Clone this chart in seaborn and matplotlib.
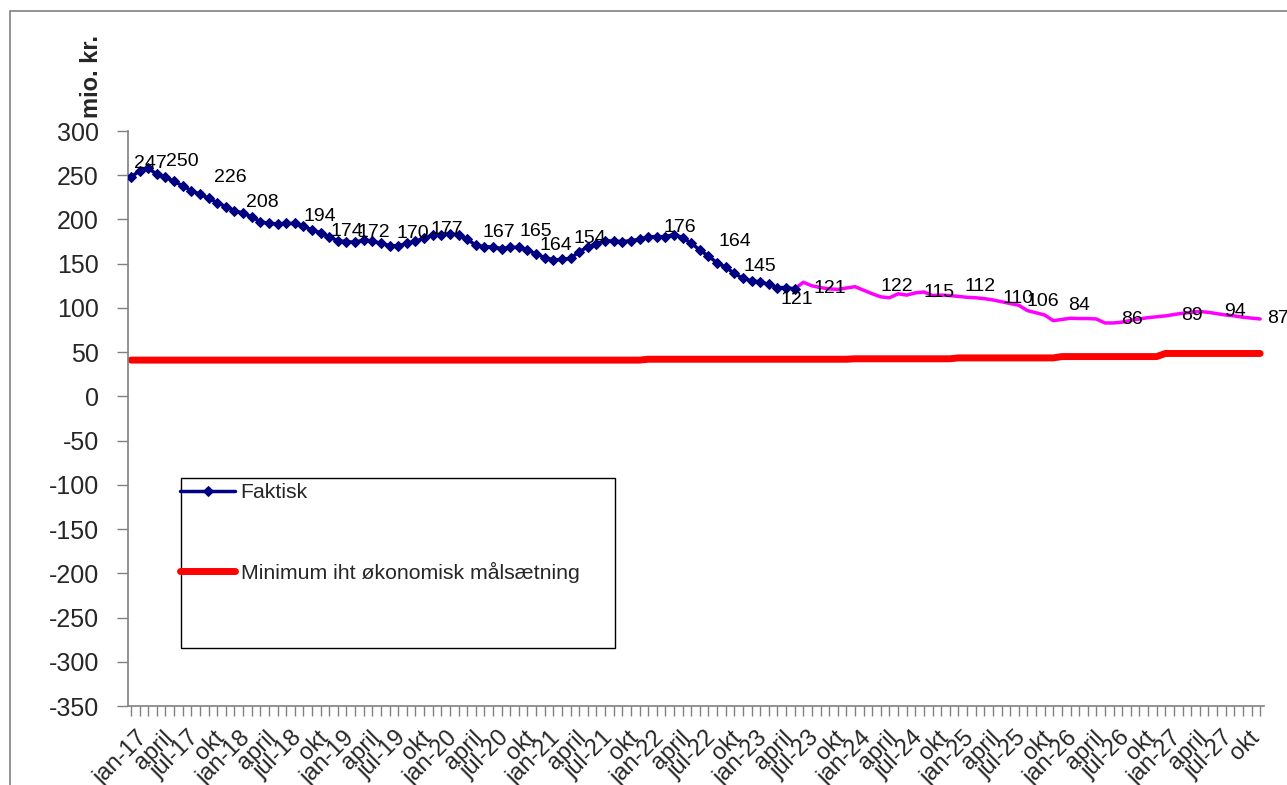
import numpy as np
import pandas as pd
import seaborn as sns
import matplotlib.pyplot as plt
from matplotlib.patches import Rectangle
from matplotlib.transforms import ScaledTranslation

# actual values, monthly from jan-17 to jun-23 (mio. kr.)
faktisk = [248, 255, 258, 251, 247.5, 243, 238, 232.5, 228.5, 224, 219, 214.5,
           210, 207, 203, 197.5, 195.5, 195, 195.5, 195.5, 192.5, 188, 185, 180,
           176, 175, 174, 177, 175.5, 173, 170.5, 170, 173, 175.5, 178.5, 182.5,
           183, 184, 182.5, 177.5, 171, 169, 169, 167, 168.5, 168.5, 165.5, 161,
           157, 154, 155, 156, 163.5, 169, 172.5, 176, 175.5, 175, 176, 177.5,
           180.5, 180.5, 180.5, 183, 179.5, 173, 165.5, 158.5, 151, 146, 139, 133.5,
           130.5, 129.5, 126.5, 123, 123, 121.5]

# forecast, monthly from jun-23 to dec-27
prognose = [121.5, 129, 125, 123, 121.5, 121, 122.5, 124, 120, 116, 112.5, 111.5,
            116, 114.5, 117, 118, 114, 114.5, 114, 113, 112, 111.5, 110.5, 109,
            107, 105, 103, 97, 94.5, 92, 85.6, 87, 88.3, 88, 88, 87.5,
            83, 83, 84, 86, 87.5, 89, 90, 91, 92.5, 94, 95, 96,
            95, 93.5, 92, 91, 89.5, 88.5, 87.5]

# minimum level (breakpoints: month index, value)
minimum_x = [0, 59, 60, 83, 84, 95, 96, 107, 108, 119, 120, 131]
minimum_y = [41, 41, 42, 42, 42.5, 42.5, 43.5, 43.5, 45, 45, 48.5, 48.5]

# data labels shown in the chart (text, month position, height)
label_text = ['247', '250', '226', '208', '194', '174', '172', '170', '177', '167',
              '165', '164', '154', '176', '164', '145', '121', '121', '122', '115',
              '112', '110', '106', '84', '86', '89', '94', '87']
label_x = [2.2, 6.0, 11.5, 15.2, 21.9, 25.1, 28.2, 32.7, 36.6, 42.7,
           47.0, 49.3, 53.2, 63.7, 70.1, 73.0, 77.3, 81.1, 88.9, 93.7,
           98.5, 102.9, 105.8, 110.0, 116.1, 123.1, 128.1, 133.1]
label_y = [263, 265, 247, 219, 203, 186, 185, 184, 189, 185,
           186, 171, 178, 191, 175, 147, 110, 122.5, 123.7, 118,
           123.7, 111, 106.7, 103, 86.4, 91, 95.4, 88.6]

tick_labels = ['jan-17', 'april', 'jul-17', 'okt', 'jan-18', 'april', 'jul-18', 'okt',
               'jan-19', 'april', 'jul-19', 'okt', 'jan-20', 'april', 'jul-20', 'okt',
               'jan-21', 'april', 'jul-21', 'okt', 'jan-22', 'april', 'jul-22', 'okt',
               'jan-23', 'april', 'jul-23', 'okt', 'jan-24', 'april', 'jul-24', 'okt',
               'jan-25', 'april', 'jul-25', 'okt', 'jan-26', 'april', 'jul-26', 'okt',
               'jan-27', 'april', 'jul-27', 'okt']

df_f = pd.DataFrame({'m': range(len(faktisk)), 'v': faktisk})
df_p = pd.DataFrame({'m': range(len(faktisk) - 1, len(faktisk) - 1 + len(prognose)), 'v': prognose})
df_min = pd.DataFrame({'m': minimum_x, 'v': minimum_y})

sns.set_style('white')
plt.rcParams['font.family'] = ['Liberation Sans', 'DejaVu Sans']

fig = plt.figure(figsize=(12.87, 7.85), dpi=100)
ax = fig.add_axes([128 / 1287, 1 - 706 / 785, (1264 - 128) / 1287, (706 - 131) / 785])

sns.lineplot(data=df_min, x='m', y='v', ax=ax, color='#ff0000', linewidth=5,
             label='Minimum iht økonomisk målsætning', zorder=2)
sns.lineplot(data=df_p, x='m', y='v', ax=ax, color='#ff00ff', linewidth=2.5, zorder=3)
sns.lineplot(data=df_f, x='m', y='v', ax=ax, color='#000080', linewidth=2.5,
             marker='D', markersize=5, markeredgecolor='#000080',
             label='Faktisk', zorder=4)

for t, x, y in zip(label_text, label_x, label_y):
    ax.text(x, y, t, fontsize=14, ha='center', va='center', color='black', zorder=5)

ax.set_xlim(-0.35, 131.45)
ax.set_ylim(-350, 300)
ax.set_yticks(range(-350, 301, 50))
ax.set_yticklabels([str(v) for v in range(-350, 301, 50)], fontsize=18)
ax.set_xticks(range(132))
xl = [''] * 132
for i, t in enumerate(tick_labels):
    xl[i * 3] = t
ax.set_xticklabels(xl, fontsize=17, rotation=45, ha='right', va='top',
                   rotation_mode='anchor')
ax.tick_params(axis='y', direction='out', length=8, width=1, color='#808080', pad=13, left=True)
ax.tick_params(axis='x', direction='out', length=7, width=1, color='#808080', pad=8, bottom=True)
off = ScaledTranslation(5 / 100, 0, fig.dpi_scale_trans)
for lab in ax.get_xticklabels():
    lab.set_transform(lab.get_transform() + off)
ax.set_xlabel('')
ax.set_ylabel('')
for s in ['top', 'right']:
    ax.spines[s].set_visible(False)
for s in ['left', 'bottom']:
    ax.spines[s].set_color('#808080')
    ax.spines[s].set_linewidth(1.2)
ax.grid(False)

# legend
h, l = ax.get_legend_handles_labels()
order = [l.index('Faktisk'), l.index('Minimum iht økonomisk målsætning')]
ax.get_legend().remove()
fig.legend([h[i] for i in order], [l[i] for i in order], loc='upper left',
           bbox_to_anchor=(180 / 1287, 1 - 483 / 785), frameon=False, fontsize=15.3,
           handlelength=2.6, handletextpad=0.25, labelspacing=2.8, borderpad=0,
           borderaxespad=0)
fig.patches.append(Rectangle((181 / 1287, 1 - 648 / 785), 434 / 1287, 170 / 785,
                             transform=fig.transFigure, fill=False, edgecolor='black',
                             linewidth=1))

# outer chart border
fig.patches.append(Rectangle((10 / 1287, -0.05), 1.2, 1 - 11 / 785 + 0.05,
                             transform=fig.transFigure, fill=False, edgecolor='#808080',
                             linewidth=1.2))

fig.text(92 / 1287, 1 - 76 / 785, 'mio. kr.', rotation=90, fontsize=17,
         fontweight='bold', ha='center', va='center')

fig.savefig('out.png', dpi=100, facecolor='white')
